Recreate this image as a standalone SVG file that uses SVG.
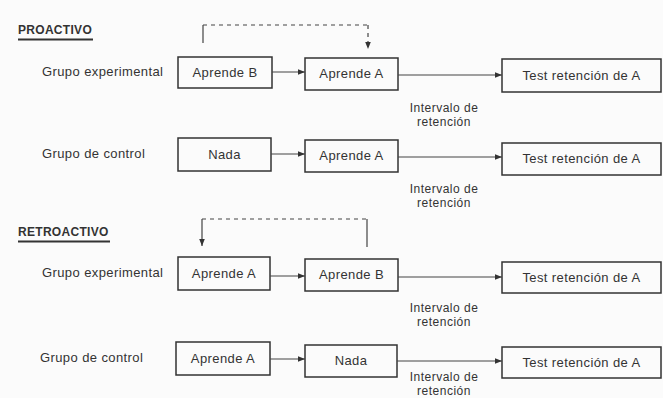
<svg xmlns="http://www.w3.org/2000/svg" width="663" height="398" viewBox="0 0 663 398">
<defs>
<marker id="ah" viewBox="0 0 10 10" refX="10" refY="5" markerWidth="7" markerHeight="7" markerUnits="userSpaceOnUse" orient="auto"><path d="M0,1 L10,5 L0,9 z" fill="#333"/></marker>
<style>
text{font-family:"Liberation Sans",Arial,sans-serif;fill:#333;font-size:13px;letter-spacing:0.4px}
.h{font-weight:bold;font-size:12px;letter-spacing:0.3px}
.c{text-anchor:middle}
.iv{font-size:12px;letter-spacing:0.5px}
.box{fill:none;stroke:#333;stroke-width:1.5}
.ln{fill:none;stroke:#444;stroke-width:1.2}
.ds{fill:none;stroke:#444;stroke-width:1.2;stroke-dasharray:4,4}
.ul{stroke:#333;stroke-width:2}
</style>
</defs>
<rect width="663" height="398" fill="#fbfbfb"/>
<g id="headers">
<text class="h" x="18" y="34">PROACTIVO</text>
<line class="ul" x1="18" y1="39.5" x2="93" y2="39.5"/>
<text class="h" x="18" y="236">RETROACTIVO</text>
<line class="ul" x1="18" y1="241.5" x2="110" y2="241.5"/>
</g>
<g id="labels">
<text x="42" y="76">Grupo experimental</text>
<text x="42" y="158">Grupo de control</text>
<text x="42" y="277">Grupo experimental</text>
<text x="40" y="362">Grupo de control</text>
</g>
<g id="p-exp-b1"><rect class="box" x="178" y="57" width="94" height="31"/><text class="c" x="225" y="77">Aprende B</text></g>
<g id="p-exp-b2"><rect class="box" x="305" y="58" width="93" height="32"/><text class="c" x="351.5" y="78">Aprende A</text></g>
<g id="p-exp-t"><rect class="box" x="502" y="59" width="159" height="33"/><text class="c" x="581.5" y="80">Test retención de A</text></g>
<g id="p-ctl-b1"><rect class="box" x="178" y="138" width="93" height="33"/><text class="c" x="224.5" y="159">Nada</text></g>
<g id="p-ctl-b2"><rect class="box" x="305" y="140" width="93" height="32"/><text class="c" x="351.5" y="160">Aprende A</text></g>
<g id="p-ctl-t"><rect class="box" x="502" y="143" width="159" height="32"/><text class="c" x="581.5" y="163">Test retención de A</text></g>
<g id="r-exp-b1"><rect class="box" x="178" y="257" width="92" height="33"/><text class="c" x="224" y="278">Aprende A</text></g>
<g id="r-exp-b2"><rect class="box" x="305" y="259" width="93" height="32"/><text class="c" x="351.5" y="279">Aprende B</text></g>
<g id="r-exp-t"><rect class="box" x="502" y="262" width="159" height="31"/><text class="c" x="581.5" y="282">Test retención de A</text></g>
<g id="r-ctl-b1"><rect class="box" x="176" y="342" width="94" height="33"/><text class="c" x="223" y="363">Aprende A</text></g>
<g id="r-ctl-b2"><rect class="box" x="305" y="345" width="92" height="32"/><text class="c" x="351" y="365">Nada</text></g>
<g id="r-ctl-t"><rect class="box" x="502" y="347" width="159" height="31"/><text class="c" x="581.5" y="367">Test retención de A</text></g>
<g id="intervals">
<text class="c iv" x="444" y="112">Intervalo de</text><text class="c iv" x="444" y="126">retención</text>
<text class="c iv" x="444" y="193">Intervalo de</text><text class="c iv" x="444" y="207">retención</text>
<text class="c iv" x="444" y="312">Intervalo de</text><text class="c iv" x="444" y="326">retención</text>
<text class="c iv" x="444" y="381">Intervalo de</text><text class="c iv" x="444" y="395">retención</text>
</g>
<g id="connectors">
<line class="ln" x1="272" y1="72" x2="305" y2="72" marker-end="url(#ah)"/>
<line class="ln" x1="398" y1="75" x2="502" y2="75" marker-end="url(#ah)"/>
<line class="ln" x1="271" y1="154" x2="305" y2="154" marker-end="url(#ah)"/>
<line class="ln" x1="398" y1="157" x2="502" y2="157" marker-end="url(#ah)"/>
<line class="ln" x1="270" y1="276" x2="305" y2="276" marker-end="url(#ah)"/>
<line class="ln" x1="398" y1="277" x2="502" y2="277" marker-end="url(#ah)"/>
<line class="ln" x1="270" y1="359" x2="305" y2="359" marker-end="url(#ah)"/>
<line class="ln" x1="397" y1="361" x2="502" y2="361" marker-end="url(#ah)"/>
<line class="ln" x1="203" y1="43" x2="203" y2="25"/>
<line class="ds" x1="203" y1="25" x2="368" y2="25"/>
<line class="ds" x1="368" y1="25" x2="368" y2="49" marker-end="url(#ah)"/>
<line class="ds" x1="202" y1="219" x2="367" y2="219"/>
<line class="ln" x1="202" y1="219" x2="202" y2="246" marker-end="url(#ah)"/>
<line class="ln" x1="367" y1="219" x2="367" y2="247"/>
</g>
</svg>
